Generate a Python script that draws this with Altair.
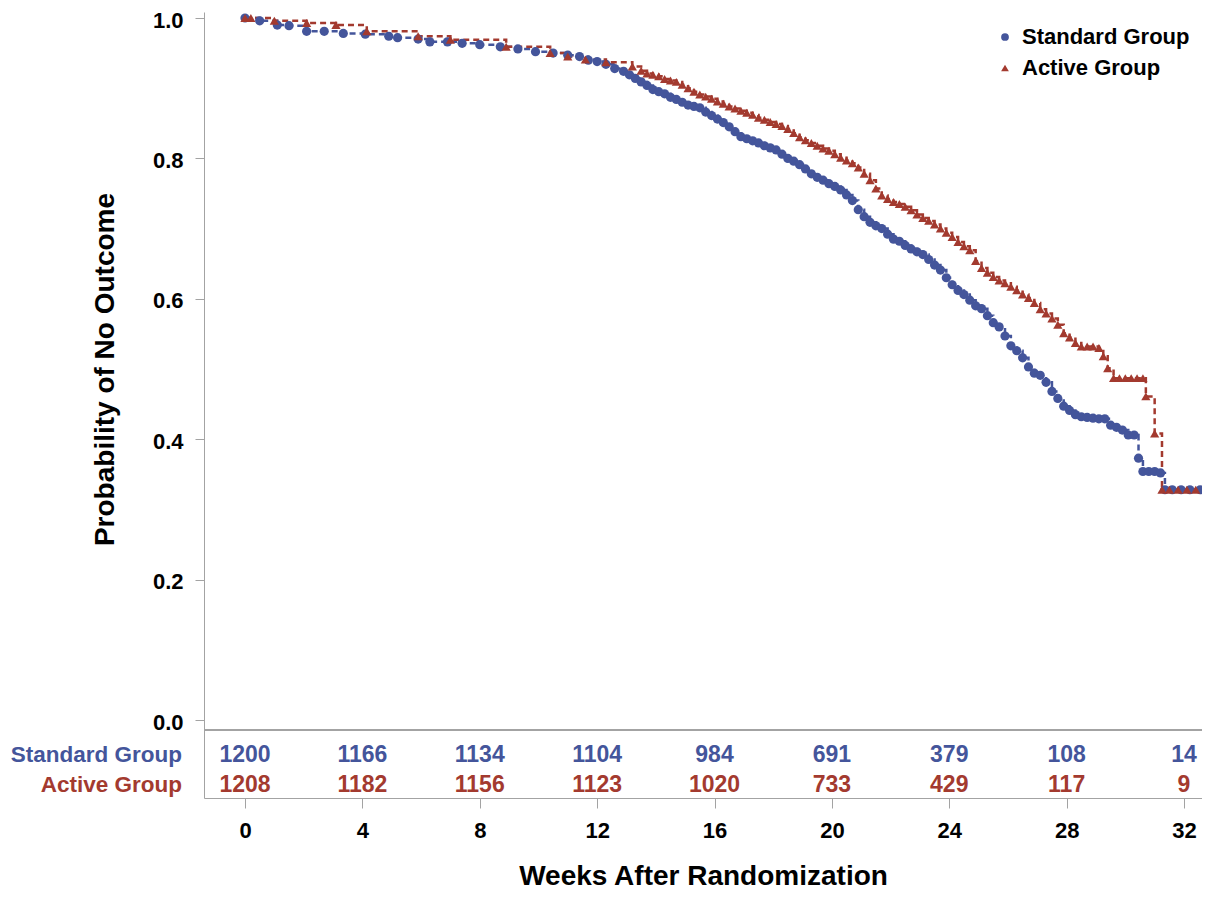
import altair as alt
import pandas as pd

# ---------------- data ----------------
tick_weeks = [0, 4, 8, 12, 16, 20, 24, 28, 32]
std_at_risk = [1200, 1166, 1134, 1104, 984, 691, 379, 108, 14]
act_at_risk = [1208, 1182, 1156, 1123, 1020, 733, 429, 117, 9]

std_t = [0.0, 0.5, 1.1, 1.5, 2.1, 2.7, 3.35, 4.1, 4.9, 5.2, 5.9, 6.3, 6.9, 7.4, 8.0,
         8.7, 9.3, 9.9, 10.5, 11.0, 11.4, 11.7, 12.0, 12.3, 12.6, 12.9, 13.1, 13.3,
         13.5, 13.7, 13.9, 14.1, 14.3, 14.5, 14.7, 14.9, 15.1, 15.3, 15.5, 15.7, 15.9,
         16.1, 16.3, 16.5, 16.7, 16.9, 17.1, 17.3, 17.5, 17.7, 17.9, 18.1, 18.3, 18.5,
         18.7, 18.9, 19.1, 19.3, 19.5, 19.7, 19.9, 20.1, 20.3, 20.5, 20.7, 20.9, 21.1,
         21.3, 21.5, 21.7, 21.9, 22.1, 22.3, 22.5, 22.7, 22.9, 23.1, 23.3, 23.5, 23.7,
         23.9, 24.1, 24.3, 24.5, 24.7, 24.9, 25.1, 25.3, 25.5, 25.7, 25.9, 26.1, 26.3,
         26.5, 26.7, 26.9, 27.1, 27.3, 27.5, 27.7, 27.9, 28.1, 28.3, 28.5, 28.7, 28.9,
         29.1, 29.3, 29.5, 29.7, 29.9, 30.1, 30.3, 30.45, 30.6, 30.8, 31.0, 31.2, 31.35,
         31.6, 31.9, 32.2, 32.55]
std_s = [1.000, 0.996, 0.990, 0.989, 0.981, 0.981, 0.978, 0.977, 0.974, 0.972, 0.970,
         0.966, 0.966, 0.964, 0.962, 0.959, 0.956, 0.952, 0.950, 0.947, 0.945, 0.940,
         0.938, 0.934, 0.928, 0.924, 0.919, 0.914, 0.909, 0.904, 0.898, 0.895, 0.892,
         0.887, 0.884, 0.880, 0.876, 0.874, 0.872, 0.866, 0.861, 0.856, 0.851, 0.845,
         0.838, 0.831, 0.828, 0.825, 0.822, 0.818, 0.815, 0.812, 0.806, 0.800, 0.796,
         0.791, 0.785, 0.778, 0.773, 0.769, 0.764, 0.760, 0.755, 0.748, 0.740, 0.727,
         0.717, 0.709, 0.704, 0.700, 0.692, 0.685, 0.682, 0.676, 0.671, 0.667, 0.663,
         0.656, 0.648, 0.641, 0.630, 0.620, 0.612, 0.606, 0.598, 0.590, 0.586, 0.576,
         0.566, 0.560, 0.547, 0.533, 0.526, 0.516, 0.503, 0.494, 0.491, 0.481, 0.468,
         0.458, 0.447, 0.441, 0.435, 0.432, 0.431, 0.430, 0.429, 0.429, 0.420, 0.417,
         0.413, 0.406, 0.406, 0.373, 0.354, 0.354, 0.354, 0.352, 0.328, 0.328, 0.328,
         0.328, 0.328]

act_t = [0.0, 0.2, 1.0, 2.1, 3.1, 4.15, 5.9, 7.0, 8.9, 10.4, 11.0, 11.6, 12.3, 13.2,
         13.5, 13.7, 13.9, 14.1, 14.3, 14.5, 14.7, 14.9, 15.1, 15.3, 15.5, 15.7, 15.9,
         16.1, 16.3, 16.5, 16.7, 16.9, 17.1, 17.3, 17.5, 17.7, 17.9, 18.1, 18.3, 18.5,
         18.7, 18.9, 19.1, 19.3, 19.5, 19.7, 19.9, 20.1, 20.3, 20.5, 20.7, 20.9, 21.1,
         21.3, 21.5, 21.7, 21.9, 22.1, 22.3, 22.5, 22.7, 22.9, 23.1, 23.3, 23.5, 23.7,
         23.9, 24.1, 24.3, 24.5, 24.7, 24.9, 25.1, 25.3, 25.5, 25.7, 25.9, 26.1, 26.3,
         26.5, 26.7, 26.9, 27.1, 27.3, 27.5, 27.7, 27.9, 28.1, 28.3, 28.5, 28.7, 28.9,
         29.1, 29.25, 29.4, 29.6, 29.8, 30.0, 30.2, 30.4, 30.6, 30.7, 31.0, 31.25, 31.5,
         31.8, 32.1, 32.4]
act_s = [1.000, 1.000, 0.996, 0.993, 0.990, 0.981, 0.974, 0.969, 0.959, 0.950, 0.945,
         0.941, 0.937, 0.931, 0.925, 0.921, 0.919, 0.917, 0.913, 0.911, 0.909, 0.905,
         0.900, 0.895, 0.891, 0.888, 0.885, 0.881, 0.878, 0.874, 0.871, 0.868, 0.865,
         0.862, 0.858, 0.855, 0.852, 0.849, 0.846, 0.842, 0.836, 0.830, 0.826, 0.822,
         0.818, 0.814, 0.811, 0.806, 0.801, 0.797, 0.793, 0.787, 0.778, 0.769, 0.757,
         0.747, 0.742, 0.738, 0.735, 0.731, 0.726, 0.720, 0.715, 0.711, 0.706, 0.700,
         0.694, 0.688, 0.681, 0.675, 0.669, 0.654, 0.644, 0.637, 0.631, 0.626, 0.622,
         0.617, 0.612, 0.606, 0.601, 0.594, 0.585, 0.579, 0.572, 0.563, 0.551, 0.545,
         0.537, 0.532, 0.532, 0.532, 0.530, 0.518, 0.501, 0.487, 0.487, 0.487, 0.487,
         0.487, 0.487, 0.461, 0.408, 0.328, 0.328, 0.328, 0.328, 0.328]

groups = ["Standard Group", "Active Group"]
colors = ["#44559B", "#A33A2F"]
shapes = ["circle", "triangle-up"]
y_ticks = [0.0, 0.2, 0.4, 0.6, 0.8, 1.0]

curve = pd.DataFrame({
    "week": std_t + act_t,
    "surv": std_s + act_s,
    "group": [groups[0]] * len(std_t) + [groups[1]] * len(act_t),
})
std_risk = pd.DataFrame({"week": tick_weeks, "n": std_at_risk})
act_risk = pd.DataFrame({"week": tick_weeks, "n": act_at_risk})
row_labels_std = pd.DataFrame({"label": [groups[0]]})
row_labels_act = pd.DataFrame({"label": [groups[1]]})

# ---------------- layout ----------------
FONT = "Liberation Sans"
GRAY = "#A3A3A3"
PAD_TOP = 4
PLOT_TOP = 8 + PAD_TOP          # page y of plot top
W = 998
H = 798 - PLOT_TOP              # x-axis line at page y 798
PX_PER_WEEK = 939 / 32.0
x_min = -41 / PX_PER_WEEK
x_max = x_min + W / PX_PER_WEEK
y_zero_px = 720.0 - PLOT_TOP    # 0.0 at page y 720
PX_PER_UNIT = 702.0
y_max = y_zero_px / PX_PER_UNIT
y_min = (y_zero_px - H) / PX_PER_UNIT

x_scale = alt.Scale(domain=[x_min, x_max], nice=False, zero=False)
y_scale = alt.Scale(domain=[y_min, y_max], nice=False, zero=False)

color_enc = alt.Color("group:N", scale=alt.Scale(domain=groups, range=colors),
                      sort=groups,
                      legend=alt.Legend(title=None, orient="none", legendX=790,
                                        legendY=26 - PLOT_TOP,
                                        labelFont=FONT, labelFontSize=22, labelFontWeight="bold",
                                        labelColor="black", labelLimit=400, symbolSize=60,
                                        symbolStrokeWidth=0, labelOffset=6, rowPadding=9,
                                        padding=0))
shape_enc = alt.Shape("group:N", scale=alt.Scale(domain=groups, range=shapes), sort=groups,
                      legend=None)

x_enc = alt.X("week:Q", scale=x_scale,
              axis=alt.Axis(values=tick_weeks, format="d", title="Weeks After Randomization",
                            labelFont=FONT, labelFontSize=22, labelFontWeight="bold",
                            labelColor="black", labelPadding=12, tickSize=10, tickColor=GRAY,
                            domainColor=GRAY, grid=False, titleFont=FONT, titleFontSize=28,
                            titleFontWeight="bold", titleColor="black", titleY=78,
                            titleBaseline="middle"))
y_enc = alt.Y("surv:Q", scale=y_scale,
              axis=alt.Axis(values=y_ticks, format=".1f", title="Probability of No Outcome",
                            labelFont=FONT, labelFontSize=22, labelFontWeight="bold",
                            labelColor="black", labelPadding=12, labelOffset=2, tickSize=9,
                            tickColor=GRAY, domainColor=GRAY, grid=False, titleFont=FONT,
                            titleFontSize=28, titleFontWeight="bold", titleColor="black",
                            titleX=-99, titleY=369 - PLOT_TOP,
                            titleAlign="center", titleBaseline="middle", titleAngle=270))

lines = alt.Chart(curve).mark_line(interpolate="step-after", strokeWidth=2.5,
                                   strokeDash=[6, 4]).encode(
    x=x_enc, y=y_enc, color=color_enc, detail="group:N")
points = alt.Chart(curve).mark_point(filled=True, opacity=1, size=85).encode(
    x=alt.X("week:Q", scale=x_scale), y=alt.Y("surv:Q", scale=y_scale),
    color=color_enc, shape=shape_enc)

table_rule = alt.Chart(curve).mark_rule(color=GRAY, strokeWidth=1.5).encode(
    x=alt.value(0), x2=alt.value(W), y=alt.value(730 - PLOT_TOP))

ROW1 = 755 - PLOT_TOP
ROW2 = 785 - PLOT_TOP
std_text = alt.Chart(std_risk).mark_text(font=FONT, fontSize=23, fontWeight="bold",
                                         color=colors[0], baseline="middle").encode(
    x=alt.X("week:Q", scale=x_scale), y=alt.value(ROW1), text="n:Q")
act_text = alt.Chart(act_risk).mark_text(font=FONT, fontSize=23, fontWeight="bold",
                                         color=colors[1], baseline="middle").encode(
    x=alt.X("week:Q", scale=x_scale), y=alt.value(ROW2), text="n:Q")
std_label = alt.Chart(row_labels_std).mark_text(font=FONT, fontSize=22.5, fontWeight="bold",
                                                color=colors[0], align="right",
                                                baseline="middle").encode(
    x=alt.value(-22), y=alt.value(ROW1), text="label:N")
act_label = alt.Chart(row_labels_act).mark_text(font=FONT, fontSize=22.5, fontWeight="bold",
                                                color=colors[1], align="right",
                                                baseline="middle").encode(
    x=alt.value(-22), y=alt.value(ROW2), text="label:N")

chart = alt.layer(lines, points, table_rule, std_text, act_text, std_label, act_label).properties(
    width=W, height=H,
    autosize=alt.AutoSizeParams(type="none"),
    padding={"left": 196, "top": PAD_TOP, "right": 0, "bottom": 92},
).configure_view(stroke=None).resolve_scale(color="shared", shape="shared")

chart.save("out.html", embed_options={"renderer": "svg", "actions": False})
